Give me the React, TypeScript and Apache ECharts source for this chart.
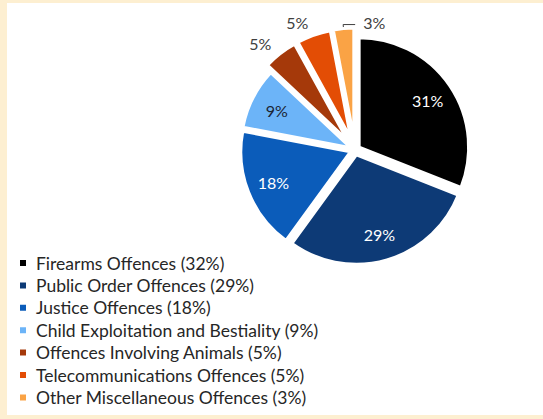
import React, { useEffect, useRef } from "react";
import * as echarts from "echarts";

// ---- data ----
const categories = [
  "Firearms Offences",
  "Public Order Offences",
  "Justice Offences",
  "Child Exploitation and Bestiality",
  "Offences Involving Animals",
  "Telecommunications Offences",
  "Other Miscellaneous Offences",
];
const legendPercents = [32, 29, 18, 9, 5, 5, 3];
const sliceValues = [31, 29, 18, 9, 5, 5, 3];
// first four categories are the main slices, the rest are the small, more exploded ones
const mainCount = 4;

// ---- styles ----
const sliceColors = ["#000000", "#0d3a76", "#0b5cba", "#6cb4f8", "#a5390a", "#e34d05", "#faa345"];
const innerLabelColors = ["#ffffff", "#ffffff", "#ffffff", "#1b2433"];
const FONT = "Lato, 'Open Sans', sans-serif";

export default function App() {
  const ref = useRef<HTMLDivElement>(null);

  useEffect(() => {
    document.body.style.margin = "0";
    const chart = echarts.init(ref.current!, null, { renderer: "svg" });

    const sum = (a: number[]) => a.reduce((s, v) => s + v, 0);
    const mainSum = sum(sliceValues.slice(0, mainCount));
    const smallSum = sum(sliceValues.slice(mainCount));

    const center = [348, 147];
    const R = 109.5;

    const gap = (v: number) => ({
      name: "",
      value: v,
      itemStyle: { color: "rgba(0,0,0,0)", borderWidth: 0 },
      label: { show: false },
      labelLine: { show: false },
      select: { disabled: true },
      emphasis: { disabled: true },
    });

    const item = (i: number, extra: any = {}) => ({
      name: categories[i],
      value: sliceValues[i],
      selected: true,
      itemStyle: { color: sliceColors[i], borderColor: "#ffffff", borderWidth: 3 },
      ...extra,
    });

    const common = {
      type: "pie",
      center,
      startAngle: 90,
      clockwise: true,
      avoidLabelOverlap: false,
      selectedMode: "multiple",
      emphasis: { disabled: true },
      select: { itemStyle: { borderColor: "#ffffff", borderWidth: 3 } },
    };

    const mainData = sliceValues.slice(0, mainCount).map((_, i) => item(i, { label: { show: false }, labelLine: { show: false } }));
    mainData.push(gap(smallSum) as any);

    const otherIdx = categories.length - 1;
    const otherDataIdx = otherIdx - mainCount + 1;
    const smallData: any[] = [gap(mainSum)];
    for (let i = mainCount; i < categories.length; i++) {
      smallData.push(
        item(i, {
          labelLine:
            i === otherIdx
              ? { show: true, length: 4, length2: 5, lineStyle: { color: "#404040", width: 1 } }
              : { show: false },
        })
      );
    }

    const labelData: any[] = sliceValues.slice(0, mainCount).map((v, i) => ({
      name: categories[i],
      value: v,
      itemStyle: { color: "rgba(0,0,0,0)", borderWidth: 0 },
      label: { color: innerLabelColors[i] },
    }));
    labelData.push({ ...gap(smallSum) });

    const option: any = {
      animation: false,
      backgroundColor: "#ffffff",
      legend: {
        orient: "vertical",
        left: 11,
        top: 251,
        padding: 0,
        height: 300,
        itemWidth: 16,
        itemHeight: 8,
        itemGap: 4.4,
        icon: "path://M0,0H8V8H0Z",
        selectedMode: false,
        data: categories,
        formatter: (name: string) => `${name} (${legendPercents[categories.indexOf(name)]}%)`,
        textStyle: { fontFamily: FONT, fontSize: 17.5, color: "#262626", lineHeight: 17 },
      },
      series: [
        {
          ...common,
          name: "main",
          radius: [0, R],
          selectedOffset: 5,
          data: mainData,
        },
        {
          ...common,
          name: "small",
          radius: [0, R],
          selectedOffset: 12.5,
          label: {
            show: true,
            position: "outside",
            formatter: "{c}%",
            color: "#404040",
            fontFamily: FONT,
            fontSize: 16,
            distanceToLabelLine: 0,
          },
          labelLine: { show: false, length: 13, length2: 1 },
          labelLayout: (p: any) => {
            if (p.dataIndex !== otherDataIdx || !p.labelLinePoints) return {};
            const a = p.labelLinePoints[0];
            const b = p.labelLinePoints[1];
            return {
              align: "left",
              dx: 25,
              dy: -2,
              labelLinePoints: [a, b, [b[0] + 12, b[1]]],
            };
          },
          data: smallData,
        },
        {
          type: "pie",
          name: "labels",
          silent: true,
          center,
          startAngle: 90,
          clockwise: true,
          radius: [60, R],
          avoidLabelOverlap: false,
          label: {
            show: true,
            position: "inside",
            formatter: "{c}%",
            fontFamily: FONT,
            fontSize: 16,
          },
          labelLine: { show: false },
          emphasis: { disabled: true },
          data: labelData,
        },
      ],
    };

    chart.setOption(option);
    return () => chart.dispose();
  }, []);

  return (
    <div style={{ position: "absolute", left: 0, top: 0, width: 543, height: 419, background: "#fdefd1" }}>
      <div ref={ref} style={{ position: "absolute", left: 7, top: 3, width: 536, height: 412 }} />
    </div>
  );
}
